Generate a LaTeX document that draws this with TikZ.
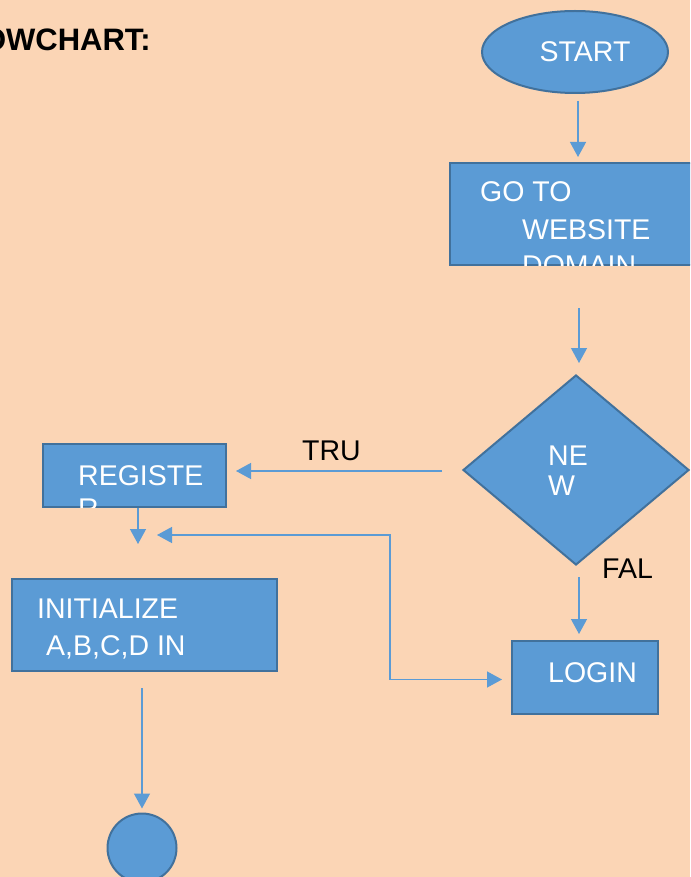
\documentclass[tikz,border=0pt]{standalone}
\usepackage{fontspec}
\setmainfont{Liberation Sans}
\usetikzlibrary{arrows.meta,shapes.geometric}
\definecolor{bg}{HTML}{FBD5B5}
\definecolor{boxfill}{HTML}{5B9BD5}
\definecolor{boxline}{HTML}{41719C}
\definecolor{arrowc}{HTML}{5B9BD5}
\tikzset{
  boxnode/.style={rectangle, fill=boxfill, draw=boxline, line width=2pt, inner sep=0pt},
  termnode/.style={ellipse, fill=boxfill, draw=boxline, line width=2pt, inner sep=0pt, text=white, font=\fontsize{28.5}{34}\selectfont},
  decnode/.style={diamond, fill=boxfill, draw=boxline, line width=2pt, inner sep=0pt},
  circnode/.style={circle, fill=boxfill, draw=boxline, line width=2pt, inner sep=0pt},
  intext/.style={anchor=base west, inner sep=0pt, text=white, font=\fontsize{28.5}{34}\selectfont},
  lbl/.style={anchor=base west, inner sep=0pt, text=black, font=\fontsize{28.5}{34}\selectfont},
  conn/.style={draw=arrowc, line width=1.3pt, -{Triangle[width=16pt,length=15pt]}},
  conn2/.style={draw=arrowc, line width=1.3pt, {Triangle[width=16pt,length=15pt]}-{Triangle[width=16pt,length=15pt]}}
}
\begin{document}
\begin{tikzpicture}[x=1pt,y=-1pt]
\useasboundingbox (0,0) rectangle (690,877);
\clip (0,0) rectangle (690,877);
\fill[bg] (0,0) rectangle (690,877);

% title
\node[anchor=base east, inner sep=0pt, font=\bfseries\fontsize{31}{36}\selectfont] (title) at (151,51) {OWCHART:};

% start
\node[termnode, minimum width=186pt, minimum height=82pt] (start) at (575,52) {\hspace*{20pt}START};

% go to website
\node[boxnode, minimum width=250pt, minimum height=102pt] (go) at (575,214) {};
\begin{scope}
\clip ([shift={(1,-1)}]go.south west) rectangle ([shift={(-1,1)}]go.north east);
\node[intext] (go1) at (480,202) {GO TO};
\node[intext] (go2) at (522,240) {WEBSITE};
\node[intext] (go3) at (522,275) {DOMAIN};
\end{scope}

% decision
\node[decnode, minimum width=226pt, minimum height=190pt] (new) at (576,470) {};
\node[intext] (new1) at (548,465) {NE};
\node[intext] (new2) at (548,495) {W};

% register
\node[boxnode, minimum width=183pt, minimum height=63pt] (reg) at (134.5,475.5) {};
\begin{scope}
\clip ([shift={(1,-1)}]reg.south west) rectangle ([shift={(-1,1)}]reg.north east);
\node[intext] (reg1) at (78,485) {REGISTE};
\node[intext] (reg2) at (78,518) {R};
\end{scope}

% initialize
\node[boxnode, minimum width=265pt, minimum height=92pt] (init) at (144.5,625) {};
\node[intext] (init1) at (37,618) {INITIALIZE};
\node[intext] (init2) at (46,655) {A,B,C,D IN};

% login
\node[boxnode, minimum width=146pt, minimum height=73pt] (login) at (585,677.5) {};
\node[intext] (login1) at (548,682) {LOGIN};

% end circle
\node[circnode, minimum size=69pt] (stop) at (142,848) {};

% labels
\node[lbl] (tru) at (302,460) {TRU};
\node[lbl] (fal) at (602,578) {FAL};

% connectors
\coordinate (join) at (157,535);
\draw[conn, shorten <=7pt, shorten >=5pt] ([xshift=3pt]start.south) -- ([xshift=3pt]start.south |- go.north);
\draw[conn, shorten <=42pt, shorten >=11pt] ([xshift=4pt]go.south) -- ([xshift=4pt]go.south |- new.north);
\draw[conn, shorten <=20pt, shorten >=9pt] ([yshift=-1pt]new.west) -- ([yshift=-1pt]new.west -| reg.east);
\draw[conn, shorten >=34pt] ([xshift=3.5pt]reg.south) -- ([xshift=3.5pt]reg.south |- init.north);
\draw[conn2, shorten >=9pt] (join) -- ++(233,0) |- ([yshift=-2pt]login.west);
\draw[conn, shorten <=11pt, shorten >=6pt] ([xshift=3pt]new.south) -- ([xshift=3pt]new.south |- login.north);
\draw[conn, shorten <=16pt, shorten >=4pt] (stop.north |- init.south) -- (stop.north);
\end{tikzpicture}
\end{document}
